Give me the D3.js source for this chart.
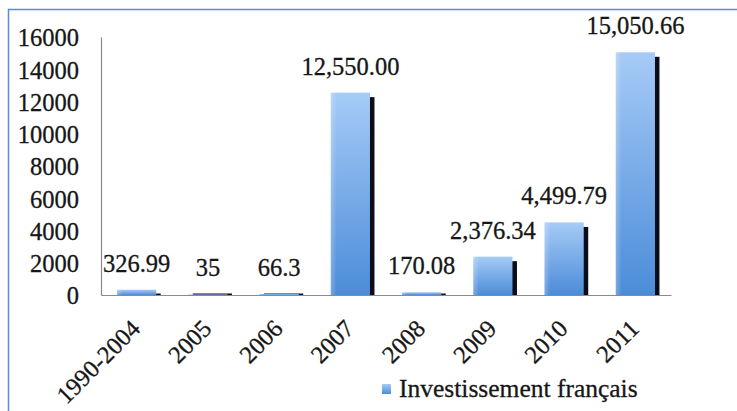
<!DOCTYPE html>
<html>
<head>
<meta charset="utf-8">
<script src="https://cdn.jsdelivr.net/npm/d3@7"></script>
<style>
  html, body { margin: 0; padding: 0; background: #fff; }
  svg { display: block; }
  text { font-family: "Liberation Serif", "Times New Roman", serif; fill: #161616; stroke: #161616; stroke-width: 0.3px; }
</style>
</head>
<body>
<svg id="chart" width="737" height="411"></svg>
<script>
// Investissements français par période
const categories = ["1990-2004", "2005", "2006", "2007", "2008", "2009", "2010", "2011"];
const values = [326.99, 35, 66.3, 12550.00, 170.08, 2376.34, 4499.79, 15050.66];
const valueLabels = ["326.99", "35", "66.3", "12,550.00", "170.08", "2,376.34", "4,499.79", "15,050.66"];
const yTicks = [0, 2000, 4000, 6000, 8000, 10000, 12000, 14000, 16000];
const seriesName = "Investissement français";

const svg = d3.select("#chart");
const plotLeft = 101, plotRight = 671, plotTop = 37, plotBase = 295;

// frame
svg.append("rect")
  .attr("x", 8.5).attr("y", 9.5)
  .attr("width", 900).attr("height", 600)
  .attr("fill", "none").attr("stroke", "#5b8bd0").attr("stroke-width", 1.5);

// gradient for bars
const defs = svg.append("defs");
const grad = defs.append("linearGradient")
  .attr("id", "barGrad").attr("x1", 0).attr("y1", 0).attr("x2", 0).attr("y2", 1);
grad.append("stop").attr("offset", "0%").attr("stop-color", "#a6cbf6");
grad.append("stop").attr("offset", "100%").attr("stop-color", "#4b8cd9");
const side = defs.append("linearGradient")
  .attr("id", "sideGrad").attr("x1", 0).attr("y1", 0).attr("x2", 1).attr("y2", 0);
side.append("stop").attr("offset", "0%").attr("stop-color", "#ffffff").attr("stop-opacity", 0.25);
side.append("stop").attr("offset", "15%").attr("stop-color", "#ffffff").attr("stop-opacity", 0);
side.append("stop").attr("offset", "100%").attr("stop-color", "#ffffff").attr("stop-opacity", 0);

const x = d3.scaleBand()
  .domain(categories)
  .range([plotLeft, plotRight])
  .paddingInner(0.45)
  .paddingOuter(0.225);

const y = d3.scaleLinear().domain([0, 16000]).range([plotBase, plotTop]);

// y axis
const yAxis = d3.axisLeft(y).tickValues(yTicks).tickSize(0).tickPadding(22).tickFormat(d3.format("d"));
const gy = svg.append("g").attr("transform", `translate(${plotLeft},0)`).call(yAxis);
gy.select(".domain").attr("stroke", "#8a8a8a").attr("stroke-width", 1.2);
gy.selectAll("text")
  .style("font-family", "'Liberation Serif', serif")
  .attr("font-size", 24.5).attr("fill", "#161616").attr("dy", "0.36em");

// bars: shadow then body
const data = categories.map((c, i) => ({ c, v: values[i], label: valueLabels[i] }));
const off = 4.5;
svg.append("g").selectAll("rect").data(data).join("rect")
  .attr("x", d => x(d.c) + off)
  .attr("y", d => Math.min(y(d.v) + off, plotBase - 1.5))
  .attr("width", x.bandwidth())
  .attr("height", d => plotBase - Math.min(y(d.v) + off, plotBase - 1.5))
  .attr("fill", "#0b0d18");

const bars = svg.append("g");
bars.selectAll("rect.b").data(data).join("rect").attr("class", "b")
  .attr("x", d => x(d.c))
  .attr("y", d => y(d.v))
  .attr("width", x.bandwidth())
  .attr("height", d => plotBase - y(d.v))
  .attr("fill", "url(#barGrad)");
bars.selectAll("rect.s").data(data).join("rect").attr("class", "s")
  .attr("x", d => x(d.c))
  .attr("y", d => y(d.v))
  .attr("width", x.bandwidth())
  .attr("height", d => plotBase - y(d.v))
  .attr("fill", "url(#sideGrad)");

// x axis
const xAxis = d3.axisBottom(x).tickSize(0).tickPadding(0);
const gx = svg.append("g").attr("transform", `translate(0,${plotBase})`).call(xAxis);
gx.select(".domain").attr("stroke", "#8a8a8a").attr("stroke-width", 1.2);
gx.selectAll(".tick text")
  .style("font-family", "'Liberation Serif', serif")
  .attr("font-size", 24.5).attr("fill", "#161616")
  .attr("text-anchor", "end")
  .attr("dy", null).attr("y", null)
  .attr("transform", `translate(5,35) rotate(-45)`);

// value labels
svg.append("g").selectAll("text").data(data).join("text")
  .attr("x", d => x(d.c) + x.bandwidth() / 2)
  .attr("y", d => y(d.v) - 18)
  .attr("text-anchor", "middle")
  .attr("font-size", 24.5)
  .text(d => d.label);

// legend
const lg = svg.append("g").attr("transform", "translate(382,384)");
lg.append("rect").attr("width", 9).attr("height", 10).attr("fill", "url(#barGrad)");
lg.append("text").attr("x", 17).attr("y", 13).attr("font-size", 25.5).text(seriesName);
</script>
</body>
</html>
